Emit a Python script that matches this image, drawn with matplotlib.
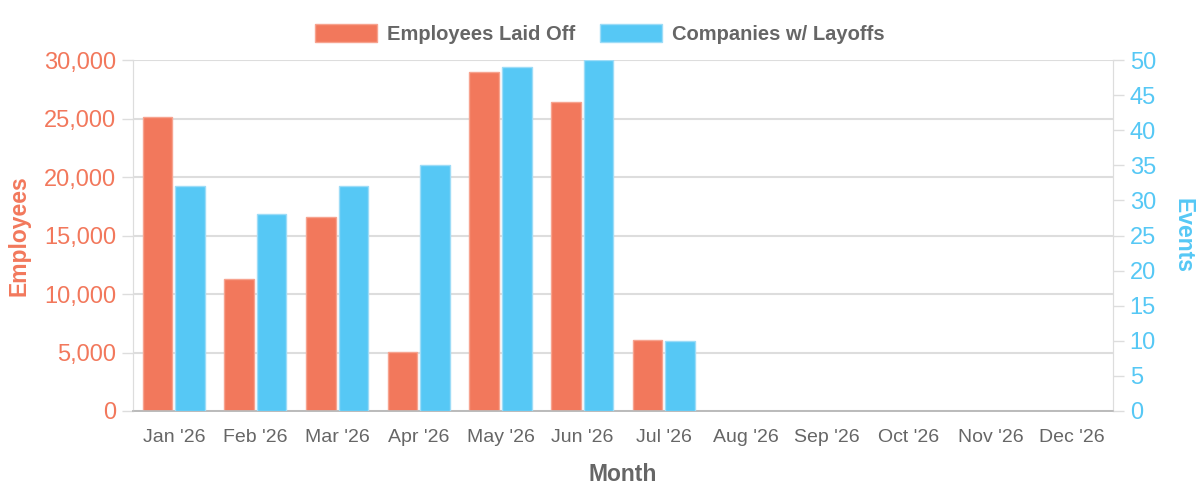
import numpy as np
import matplotlib
matplotlib.use("Agg")
import matplotlib.pyplot as plt
from matplotlib.patches import Patch

plt.rcParams['font.family'] = ['Liberation Sans', 'DejaVu Sans']

months = ["Jan '26", "Feb '26", "Mar '26", "Apr '26", "May '26", "Jun '26",
          "Jul '26", "Aug '26", "Sep '26", "Oct '26", "Nov '26", "Dec '26"]
employees = [25100, 11250, 16600, 5050, 28950, 26400, 6100,
             np.nan, np.nan, np.nan, np.nan, np.nan]
companies = [32, 28, 32, 35, 49, 50, 10,
             np.nan, np.nan, np.nan, np.nan, np.nan]

red = '#F2785C'
blue = '#56C8F5'
gray_txt = '#666666'
grid_c = '#dddddd'

fig = plt.figure(figsize=(12, 4.98), dpi=100)
ax = fig.add_axes([0.1108, 0.1747, 0.8167, 0.7048])
ax2 = ax.twinx()

x = np.arange(len(months))
ax.bar(x - 0.2, employees, 0.36, color=red, edgecolor='#f7a38f', linewidth=1, zorder=3)
ax2.bar(x + 0.2, companies, 0.36, color=blue, edgecolor='#9ddcf7', linewidth=1, zorder=3)

ax.set_xlim(-0.5, len(months) - 0.5)
ax.set_ylim(0, 30000)
ax2.set_ylim(0, 50)
ax.set_yticks(np.arange(0, 30001, 5000))
ax.set_yticklabels([f'{v:,}' for v in range(0, 30001, 5000)])
ax2.set_yticks(np.arange(0, 51, 5))

ax.grid(axis='y', color=grid_c, linewidth=1.5, zorder=0)
ax.set_axisbelow(True)

ax.set_xticks(x)
ax.set_xticklabels(months)
ax.tick_params(axis='x', length=0, pad=13, labelsize=14, labelcolor=gray_txt)
ax.tick_params(axis='y', length=8, width=1, color=grid_c, pad=4, labelsize=17, labelcolor=red)
ax2.tick_params(axis='y', length=8, width=1, color=grid_c, pad=4, labelsize=17, labelcolor=blue)

for a in (ax, ax2):
    a.spines['top'].set_visible(False)
    a.spines['left'].set_color(grid_c)
    a.spines['right'].set_color(grid_c)
    a.spines['bottom'].set_color('#bbbbbb')
    a.spines['bottom'].set_linewidth(1.2)

ax.set_ylabel('Employees', color=red, fontsize=16.5, fontweight='bold', labelpad=10)
ax2.set_ylabel('Events', color=blue, fontsize=16.5, fontweight='bold', rotation=270, labelpad=28)
ax.set_xlabel('Month', color=gray_txt, fontsize=16.5, fontweight='bold', labelpad=12)

handles = [Patch(facecolor=red, edgecolor='#f7a38f'), Patch(facecolor=blue, edgecolor='#9ddcf7')]
leg = fig.legend(handles, ['Employees Laid Off', 'Companies w/ Layoffs'], loc='center',
                 bbox_to_anchor=(0.5, 0.932), ncol=2, frameon=False,
                 prop={'size': 14.5, 'weight': 'bold'},
                 handlelength=3.1, handleheight=1.0, handletextpad=0.5, columnspacing=1.2)
for t in leg.get_texts():
    t.set_color(gray_txt)

fig.savefig('out.png', dpi=100)
